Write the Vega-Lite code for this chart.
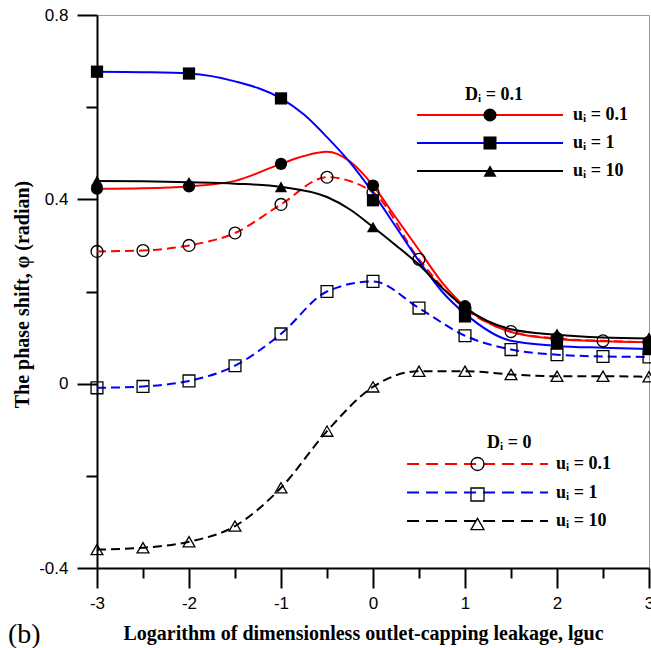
{
  "$schema": "https://vega.github.io/schema/vega-lite/v6.json",
  "width": 552,
  "height": 553,
  "autosize": {"type": "none"},
  "padding": {"left": 97, "top": 15, "right": 2, "bottom": 80},
  "background": "white",
  "config": {"view": {"stroke": "#999999", "strokeWidth": 1}, "font": "Liberation Serif"},
  "title": {"text": "(b)", "orient": "bottom", "anchor": "start", "frame": "group", "font": "Liberation Serif", "fontSize": 28, "fontWeight": "normal", "color": "black", "dx": -89, "dy": -22, "offset": 0},
  "datasets": {
    "curves": [
      {"D": "0.1", "u": "0.1", "x": -3, "y": 0.423}, {"D": "0.1", "u": "0.1", "x": -2.5, "y": 0.424}, {"D": "0.1", "u": "0.1", "x": -2, "y": 0.428}, {"D": "0.1", "u": "0.1", "x": -1.5, "y": 0.44}, {"D": "0.1", "u": "0.1", "x": -1, "y": 0.477}, {"D": "0.1", "u": "0.1", "x": -0.75, "y": 0.494}, {"D": "0.1", "u": "0.1", "x": -0.5, "y": 0.503}, {"D": "0.1", "u": "0.1", "x": -0.25, "y": 0.482}, {"D": "0.1", "u": "0.1", "x": 0, "y": 0.43}, {"D": "0.1", "u": "0.1", "x": 0.25, "y": 0.36}, {"D": "0.1", "u": "0.1", "x": 0.5, "y": 0.29}, {"D": "0.1", "u": "0.1", "x": 0.75, "y": 0.22}, {"D": "0.1", "u": "0.1", "x": 1, "y": 0.167}, {"D": "0.1", "u": "0.1", "x": 1.5, "y": 0.112}, {"D": "0.1", "u": "0.1", "x": 2, "y": 0.097}, {"D": "0.1", "u": "0.1", "x": 2.5, "y": 0.092}, {"D": "0.1", "u": "0.1", "x": 3, "y": 0.09},
      {"D": "0.1", "u": "1", "x": -3, "y": 0.677}, {"D": "0.1", "u": "1", "x": -2.5, "y": 0.676}, {"D": "0.1", "u": "1", "x": -2, "y": 0.673}, {"D": "0.1", "u": "1", "x": -1.5, "y": 0.656}, {"D": "0.1", "u": "1", "x": -1, "y": 0.619}, {"D": "0.1", "u": "1", "x": -0.75, "y": 0.584}, {"D": "0.1", "u": "1", "x": -0.5, "y": 0.535}, {"D": "0.1", "u": "1", "x": -0.25, "y": 0.48}, {"D": "0.1", "u": "1", "x": 0, "y": 0.414}, {"D": "0.1", "u": "1", "x": 0.25, "y": 0.34}, {"D": "0.1", "u": "1", "x": 0.5, "y": 0.266}, {"D": "0.1", "u": "1", "x": 0.75, "y": 0.2}, {"D": "0.1", "u": "1", "x": 1, "y": 0.152}, {"D": "0.1", "u": "1", "x": 1.5, "y": 0.093}, {"D": "0.1", "u": "1", "x": 2, "y": 0.082}, {"D": "0.1", "u": "1", "x": 2.5, "y": 0.078}, {"D": "0.1", "u": "1", "x": 3, "y": 0.075},
      {"D": "0.1", "u": "10", "x": -3, "y": 0.44}, {"D": "0.1", "u": "10", "x": -2.5, "y": 0.439}, {"D": "0.1", "u": "10", "x": -2, "y": 0.437}, {"D": "0.1", "u": "10", "x": -1.5, "y": 0.434}, {"D": "0.1", "u": "10", "x": -1, "y": 0.427}, {"D": "0.1", "u": "10", "x": -0.5, "y": 0.405}, {"D": "0.1", "u": "10", "x": -0.25, "y": 0.378}, {"D": "0.1", "u": "10", "x": 0, "y": 0.34}, {"D": "0.1", "u": "10", "x": 0.25, "y": 0.3}, {"D": "0.1", "u": "10", "x": 0.5, "y": 0.258}, {"D": "0.1", "u": "10", "x": 0.75, "y": 0.208}, {"D": "0.1", "u": "10", "x": 1, "y": 0.165}, {"D": "0.1", "u": "10", "x": 1.5, "y": 0.118}, {"D": "0.1", "u": "10", "x": 2, "y": 0.106}, {"D": "0.1", "u": "10", "x": 2.5, "y": 0.1}, {"D": "0.1", "u": "10", "x": 3, "y": 0.098},
      {"D": "0", "u": "0.1", "x": -3, "y": 0.287}, {"D": "0", "u": "0.1", "x": -2.5, "y": 0.289}, {"D": "0", "u": "0.1", "x": -2, "y": 0.3}, {"D": "0", "u": "0.1", "x": -1.5, "y": 0.327}, {"D": "0", "u": "0.1", "x": -1, "y": 0.389}, {"D": "0", "u": "0.1", "x": -0.5, "y": 0.448}, {"D": "0", "u": "0.1", "x": 0, "y": 0.415}, {"D": "0", "u": "0.1", "x": 0.5, "y": 0.27}, {"D": "0", "u": "0.1", "x": 1, "y": 0.163}, {"D": "0", "u": "0.1", "x": 1.5, "y": 0.113}, {"D": "0", "u": "0.1", "x": 2, "y": 0.098}, {"D": "0", "u": "0.1", "x": 2.5, "y": 0.093}, {"D": "0", "u": "0.1", "x": 3, "y": 0.09},
      {"D": "0", "u": "1", "x": -3, "y": -0.009}, {"D": "0", "u": "1", "x": -2.5, "y": -0.006}, {"D": "0", "u": "1", "x": -2, "y": 0.006}, {"D": "0", "u": "1", "x": -1.5, "y": 0.039}, {"D": "0", "u": "1", "x": -1, "y": 0.108}, {"D": "0", "u": "1", "x": -0.5, "y": 0.2}, {"D": "0", "u": "1", "x": 0, "y": 0.222}, {"D": "0", "u": "1", "x": 0.5, "y": 0.164}, {"D": "0", "u": "1", "x": 1, "y": 0.104}, {"D": "0", "u": "1", "x": 1.5, "y": 0.074}, {"D": "0", "u": "1", "x": 2, "y": 0.063}, {"D": "0", "u": "1", "x": 2.5, "y": 0.059}, {"D": "0", "u": "1", "x": 3, "y": 0.058},
      {"D": "0", "u": "10", "x": -3, "y": -0.36}, {"D": "0", "u": "10", "x": -2.5, "y": -0.356}, {"D": "0", "u": "10", "x": -2, "y": -0.343}, {"D": "0", "u": "10", "x": -1.5, "y": -0.309}, {"D": "0", "u": "10", "x": -1, "y": -0.226}, {"D": "0", "u": "10", "x": -0.5, "y": -0.103}, {"D": "0", "u": "10", "x": 0, "y": -0.007}, {"D": "0", "u": "10", "x": 0.5, "y": 0.027}, {"D": "0", "u": "10", "x": 1, "y": 0.027}, {"D": "0", "u": "10", "x": 1.5, "y": 0.02}, {"D": "0", "u": "10", "x": 2, "y": 0.016}, {"D": "0", "u": "10", "x": 2.5, "y": 0.016}, {"D": "0", "u": "10", "x": 3, "y": 0.015}
    ],
    "markers": [
      {"D": "0.1", "u": "0.1", "x": -3, "y": 0.423}, {"D": "0.1", "u": "0.1", "x": -2, "y": 0.428}, {"D": "0.1", "u": "0.1", "x": -1, "y": 0.477}, {"D": "0.1", "u": "0.1", "x": 0, "y": 0.43}, {"D": "0.1", "u": "0.1", "x": 1, "y": 0.168}, {"D": "0.1", "u": "0.1", "x": 2, "y": 0.097}, {"D": "0.1", "u": "0.1", "x": 3, "y": 0.09},
      {"D": "0.1", "u": "1", "x": -3, "y": 0.677}, {"D": "0.1", "u": "1", "x": -2, "y": 0.673}, {"D": "0.1", "u": "1", "x": -1, "y": 0.619}, {"D": "0.1", "u": "1", "x": 0, "y": 0.398}, {"D": "0.1", "u": "1", "x": 1, "y": 0.146}, {"D": "0.1", "u": "1", "x": 2, "y": 0.087}, {"D": "0.1", "u": "1", "x": 3, "y": 0.075},
      {"D": "0.1", "u": "10", "x": -3, "y": 0.44}, {"D": "0.1", "u": "10", "x": -2, "y": 0.437}, {"D": "0.1", "u": "10", "x": -1, "y": 0.427}, {"D": "0.1", "u": "10", "x": 0, "y": 0.34}, {"D": "0.1", "u": "10", "x": 1, "y": 0.165}, {"D": "0.1", "u": "10", "x": 2, "y": 0.108}, {"D": "0.1", "u": "10", "x": 3, "y": 0.1},
      {"D": "0", "u": "0.1", "x": -3, "y": 0.287}, {"D": "0", "u": "0.1", "x": -2.5, "y": 0.289}, {"D": "0", "u": "0.1", "x": -2, "y": 0.3}, {"D": "0", "u": "0.1", "x": -1.5, "y": 0.327}, {"D": "0", "u": "0.1", "x": -1, "y": 0.389}, {"D": "0", "u": "0.1", "x": -0.5, "y": 0.448}, {"D": "0", "u": "0.1", "x": 0, "y": 0.415}, {"D": "0", "u": "0.1", "x": 0.5, "y": 0.27}, {"D": "0", "u": "0.1", "x": 1, "y": 0.163}, {"D": "0", "u": "0.1", "x": 1.5, "y": 0.113}, {"D": "0", "u": "0.1", "x": 2, "y": 0.098}, {"D": "0", "u": "0.1", "x": 2.5, "y": 0.093}, {"D": "0", "u": "0.1", "x": 3, "y": 0.09},
      {"D": "0", "u": "1", "x": -3, "y": -0.009}, {"D": "0", "u": "1", "x": -2.5, "y": -0.006}, {"D": "0", "u": "1", "x": -2, "y": 0.006}, {"D": "0", "u": "1", "x": -1.5, "y": 0.039}, {"D": "0", "u": "1", "x": -1, "y": 0.108}, {"D": "0", "u": "1", "x": -0.5, "y": 0.2}, {"D": "0", "u": "1", "x": 0, "y": 0.222}, {"D": "0", "u": "1", "x": 0.5, "y": 0.164}, {"D": "0", "u": "1", "x": 1, "y": 0.104}, {"D": "0", "u": "1", "x": 1.5, "y": 0.074}, {"D": "0", "u": "1", "x": 2, "y": 0.063}, {"D": "0", "u": "1", "x": 2.5, "y": 0.059}, {"D": "0", "u": "1", "x": 3, "y": 0.058},
      {"D": "0", "u": "10", "x": -3, "y": -0.36}, {"D": "0", "u": "10", "x": -2.5, "y": -0.356}, {"D": "0", "u": "10", "x": -2, "y": -0.343}, {"D": "0", "u": "10", "x": -1.5, "y": -0.309}, {"D": "0", "u": "10", "x": -1, "y": -0.226}, {"D": "0", "u": "10", "x": -0.5, "y": -0.103}, {"D": "0", "u": "10", "x": 0, "y": -0.007}, {"D": "0", "u": "10", "x": 0.5, "y": 0.027}, {"D": "0", "u": "10", "x": 1, "y": 0.027}, {"D": "0", "u": "10", "x": 1.5, "y": 0.02}, {"D": "0", "u": "10", "x": 2, "y": 0.016}, {"D": "0", "u": "10", "x": 2.5, "y": 0.016}, {"D": "0", "u": "10", "x": 3, "y": 0.015}
    ]
  },
  "encoding": {
    "x": {
      "field": "x", "type": "quantitative",
      "scale": {"domain": [-3, 3], "nice": false, "zero": false},
      "axis": {
        "values": [-3, -2.5, -2, -1.5, -1, -0.5, 0, 0.5, 1, 1.5, 2, 2.5, 3],
        "labelExpr": "datum.value % 1 == 0 ? '' + datum.value : ''",
        "tickSize": {"condition": {"test": "datum.value % 1 == 0", "value": 20}, "value": 10},
        "labelPadding": 7, "labelFont": "Liberation Sans", "labelFontSize": 17, "labelColor": "black",
        "labelFlush": false, "labelOverlap": false,
        "domainColor": "black", "domainWidth": 2, "tickColor": "black", "tickWidth": 2, "grid": false,
        "title": "Logarithm of dimensionless outlet-capping leakage, lguc",
        "titleFont": "Liberation Serif", "titleFontSize": 20, "titleFontWeight": "bold", "titleColor": "black",
        "titleX": 266, "titleY": 65, "titleAlign": "center", "titleBaseline": "middle"
      }
    },
    "y": {
      "field": "y", "type": "quantitative",
      "scale": {"domain": [-0.4, 0.8], "nice": false, "zero": false},
      "axis": {
        "values": [-0.4, -0.2, 0, 0.2, 0.4, 0.6, 0.8],
        "labelExpr": "abs(round(datum.value*10)) % 4 == 0 ? '' + datum.value : ''",
        "tickSize": {"condition": {"test": "abs(round(datum.value*10)) % 4 == 0", "value": 20}, "value": 11},
        "labelPadding": 9, "labelFont": "Liberation Sans", "labelFontSize": 17, "labelColor": "black",
        "labelFlush": false, "labelOverlap": false,
        "domainColor": "black", "domainWidth": 2, "tickColor": "black", "tickWidth": 2, "grid": false,
        "title": "The phase shift, φ (radian)",
        "titleFont": "Liberation Serif", "titleFontSize": 20, "titleFontWeight": "bold", "titleColor": "black",
        "titleX": -75, "titleY": 279, "titleAngle": 270, "titleAlign": "center", "titleBaseline": "middle"
      }
    }
  },
  "layer": [
    {
      "data": {"name": "curves"},
      "transform": [{"filter": "datum.D == '0'"}],
      "mark": {"type": "line", "interpolate": "monotone", "strokeDash": [9, 5], "strokeWidth": 2},
      "encoding": {
        "stroke": {
          "field": "u", "type": "nominal",
          "scale": {"domain": ["0.1", "1", "10"], "range": ["#ff0000", "#0000ff", "#000000"]},
          "legend": {
            "orient": "none", "legendX": 308.5, "legendY": 419, "padding": 0,
            "title": ".",
            "titleFont": "Liberation Serif", "titleFontSize": 18, "titleFontWeight": "bold", "titleOpacity": 0, "titlePadding": 3, "titleLimit": 0,
            "labelFont": "Liberation Serif", "labelFontSize": 18, "labelFontWeight": "bold", "labelColor": "black",
            "labelExpr": "'u\u1d62 = ' + datum.label", "labelOffset": 69.5, "labelLimit": 0,
            "symbolType": "M-8.92,0H8.92", "symbolSize": 249.64, "symbolStrokeWidth": 2, "symbolDash": [12, 7], "symbolOffset": 63,
            "rowPadding": 10.5
          }
        }
      }
    },
    {
      "data": {"name": "curves"},
      "transform": [{"filter": "datum.D == '0.1'"}],
      "mark": {"type": "line", "interpolate": "monotone", "strokeWidth": 2},
      "encoding": {
        "stroke": {
          "field": "u", "type": "nominal",
          "scale": {"domain": ["0.1", "1", "10"], "range": ["#ff0000", "#0000ff", "#000000"]},
          "legend": {
            "orient": "none", "legendX": 318.5, "legendY": 71, "padding": 0,
            "title": ".",
            "titleFont": "Liberation Serif", "titleFontSize": 18, "titleFontWeight": "bold", "titleOpacity": 0, "titlePadding": 2, "titleLimit": 0,
            "labelFont": "Liberation Serif", "labelFontSize": 18, "labelFontWeight": "bold", "labelColor": "black",
            "labelExpr": "'u\u1d62 = ' + datum.label", "labelOffset": 74, "labelLimit": 0,
            "symbolType": "M-9.24,0H9.24", "symbolSize": 249.64, "symbolStrokeWidth": 2, "symbolOffset": 65.5,
            "rowPadding": 10
          }
        }
      }
    },
    {
      "data": {"name": "markers"},
      "transform": [{"filter": "datum.D == '0'"}],
      "mark": {"type": "point", "filled": false, "stroke": "black", "strokeWidth": 1.3, "size": 140, "opacity": 1},
      "encoding": {
        "shape": {
          "field": "u", "type": "nominal",
          "scale": {"domain": ["0.1", "1", "10"], "range": ["circle", "square", "triangle-up"]},
          "legend": {
            "orient": "none", "legendX": 308.5, "legendY": 337.5, "padding": 81.5,
            "title": "D\u1d62 = 0", "titleAnchor": "start",
            "titleFont": "Liberation Serif", "titleFontSize": 18, "titleFontWeight": "bold", "titleColor": "black", "titlePadding": 3, "titleLimit": 0,
            "labelFont": "Liberation Serif", "labelFontSize": 18, "labelFontWeight": "bold", "labelOpacity": 0,
            "labelExpr": "' '", "labelOffset": 4, "labelLimit": 0,
            "symbolSize": 170, "symbolStrokeWidth": 1.3, "symbolStrokeColor": "black", "symbolFillColor": "white", "symbolOffset": -18.5,
            "rowPadding": 10.5
          }
        }
      }
    },
    {
      "data": {"name": "markers"},
      "transform": [{"filter": "datum.D == '0.1'"}],
      "mark": {"type": "point", "filled": true, "color": "black", "size": 150, "opacity": 1},
      "encoding": {
        "shape": {
          "field": "u", "type": "nominal",
          "scale": {"domain": ["0.1", "1", "10"], "range": ["circle", "square", "triangle-up"]},
          "legend": {
            "orient": "none", "legendX": 318.5, "legendY": 21.5, "padding": 49.5,
            "title": "D\u1d62 = 0.1", "titleAnchor": "start",
            "titleFont": "Liberation Serif", "titleFontSize": 18, "titleFontWeight": "bold", "titleColor": "black", "titlePadding": 2, "titleLimit": 0,
            "labelFont": "Liberation Serif", "labelFontSize": 18, "labelFontWeight": "bold", "labelOpacity": 0,
            "labelExpr": "' '", "labelOffset": 4, "labelLimit": 0,
            "symbolSize": 170, "symbolStrokeWidth": 1, "symbolStrokeColor": "black", "symbolFillColor": "black", "symbolOffset": 16,
            "rowPadding": 10
          }
        }
      }
    }
  ],
  "resolve": {"scale": {"stroke": "independent", "shape": "independent"}}
}
